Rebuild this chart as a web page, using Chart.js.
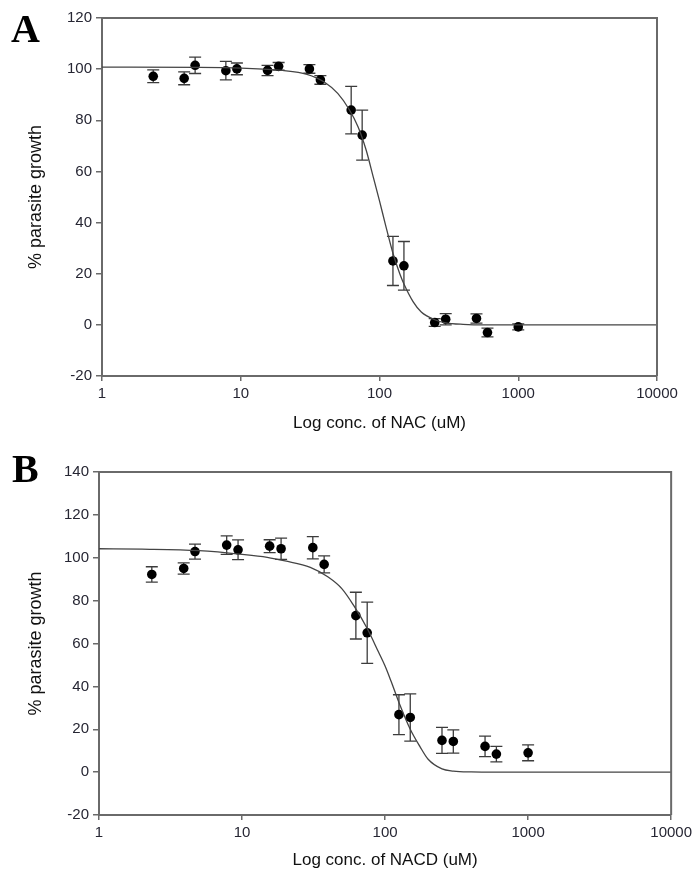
<!DOCTYPE html>
<html>
<head>
<meta charset="utf-8">
<script src="https://cdn.jsdelivr.net/npm/chart.js@4.4.1/dist/chart.umd.min.js"></script>
<style>
body { margin:0; background:#fff; width:696px; height:872px; position:relative; overflow:hidden; }
canvas { position:absolute; left:0; }
#chartA { top:0; }
#chartB { top:436px; }
.panel { position:absolute; font-family:"Liberation Serif", "Times New Roman", serif; font-weight:bold; font-size:40px; line-height:1; color:#000; }
</style>
</head>
<body>
<canvas id="chartA" width="696" height="436"></canvas>
<canvas id="chartB" width="696" height="436"></canvas>
<div class="panel" style="left:11px;top:9px">A</div>
<div class="panel" style="left:12px;top:449px">B</div>
<script>
// concentrations (uM), same dilution series in both panels
var conc = [2.34, 3.91, 4.69, 7.81, 9.38, 15.6, 18.75, 31.25, 37.5, 62.5, 75, 125, 150, 250, 300, 500, 600, 1000];

// panel A - NAC
var growthA = [97.2, 96.4, 101.5, 99.4, 100.1, 99.5, 101.1, 100.1, 95.8, 84.0, 74.2, 25.0, 23.1, 0.9, 2.2, 2.5, -3.0, -0.8];
var errA = [2.5, 2.5, 3.2, 3.6, 2.3, 2.0, 1.5, 1.7, 1.7, 9.3, 9.8, 9.6, 9.5, 1.5, 2.2, 1.8, 1.7, 1.2];
var fitXA = [1, 5, 10, 20, 30, 40, 50, 60, 70, 80, 90, 100, 110, 125, 140, 150, 175, 200, 250, 300, 400, 600, 1000, 10000];
var fitYA = [100.8, 100.7, 100.4, 99.5, 98, 95, 90.5, 84.5, 77.5, 68.5, 58, 48.5, 39.5, 28, 20, 16, 9, 5, 2, 0.8, 0.2, 0, 0, 0];

// panel B - NACD
var growthB = [92.2, 95.0, 102.9, 105.9, 103.7, 105.4, 104.2, 104.7, 96.9, 73.0, 65.0, 26.8, 25.5, 14.8, 14.3, 12.0, 8.4, 9.0];
var errB = [3.6, 2.6, 3.5, 4.3, 4.6, 3.0, 5.0, 5.2, 4.0, 10.9, 14.3, 9.3, 11.0, 6.1, 5.4, 4.8, 3.6, 3.7];
var fitXB = [1, 2, 5, 10, 15, 20, 30, 40, 50, 60, 75, 90, 100, 110, 125, 150, 175, 200, 250, 300, 400, 600, 10000];
var fitYB = [104.2, 104, 103.3, 101.6, 100.2, 98.5, 95.5, 91, 85.5, 78, 67, 56, 49.5, 42.5, 32.5, 20, 12, 6, 1.5, 0.5, 0.1, 0, 0];

// tick labels
var xTicks = [1, 10, 100, 1000, 10000];
var yTicksA = [-20, 0, 20, 40, 60, 80, 100, 120];
var yTicksB = [-20, 0, 20, 40, 60, 80, 100, 120, 140];

var errorBars = {
    id: 'errorBars',
    beforeDatasetsDraw: function(chart, args, opts) {
        var ctx = chart.ctx, x = chart.scales.x, y = chart.scales.y;
        ctx.save();
        ctx.strokeStyle = '#3c3c3c';
        ctx.lineWidth = 1.3;
        opts.conc.forEach(function(c, i) {
            var px = x.getPixelForValue(c);
            var top = y.getPixelForValue(opts.growth[i] + opts.err[i]);
            var bot = y.getPixelForValue(opts.growth[i] - opts.err[i]);
            ctx.beginPath();
            ctx.moveTo(px, top); ctx.lineTo(px, bot);
            ctx.moveTo(px - 6, top); ctx.lineTo(px + 6, top);
            ctx.moveTo(px - 6, bot); ctx.lineTo(px + 6, bot);
            ctx.stroke();
        });
        ctx.restore();
    }
};

var frame = {
    id: 'frame',
    afterDraw: function(chart) {
        var a = chart.chartArea, ctx = chart.ctx;
        ctx.save();
        ctx.strokeStyle = '#6a6a6a';
        ctx.lineWidth = 2;
        ctx.beginPath();
        ctx.moveTo(a.left, a.top);
        ctx.lineTo(a.right, a.top);
        ctx.lineTo(a.right, a.bottom);
        ctx.stroke();
        ctx.restore();
    }
};

function makeChart(id, growth, err, fitX, fitY, yTicks, xTitle, pad, yWidth, xHeight, titleBottom) {
    var pts = conc.map(function(c, i) { return {x: c, y: growth[i]}; });
    var fit = fitX.map(function(v, i) { return {x: v, y: fitY[i]}; });
    return new Chart(document.getElementById(id), {
        type: 'scatter',
        data: {
            datasets: [
                {
                    data: fit,
                    showLine: true,
                    borderColor: '#444',
                    borderWidth: 1.3,
                    pointRadius: 0,
                    cubicInterpolationMode: 'monotone',
                    fill: false
                },
                {
                    data: pts,
                    pointRadius: 4.8,
                    pointHoverRadius: 4.8,
                    backgroundColor: '#000',
                    borderWidth: 0
                }
            ]
        },
        options: {
            responsive: false,
            devicePixelRatio: 1,
            animation: false,
            layout: { padding: pad },
            plugins: {
                legend: { display: false },
                tooltip: { enabled: false },
                errorBars: { conc: conc, growth: growth, err: err }
            },
            scales: {
                x: {
                    type: 'logarithmic',
                    min: 1,
                    max: 10000,
                    afterBuildTicks: function(s) { s.ticks = xTicks.map(function(v) { return {value: v}; }); },
                    afterFit: function(s) { s.height = xHeight; },
                    ticks: {
                        callback: function(v) { return String(v); },
                        font: { family: 'Liberation Sans', size: 15 },
                        color: '#262633',
                        padding: 4,
                        maxRotation: 0
                    },
                    grid: { drawOnChartArea: false, tickLength: 5, color: '#6a6a6a', lineWidth: 1.5 },
                    border: { color: '#6a6a6a', width: 2 },
                    title: {
                        display: true,
                        text: xTitle,
                        font: { family: 'Liberation Sans', size: 17 },
                        color: '#111',
                        padding: { top: 0, bottom: titleBottom }
                    }
                },
                y: {
                    min: yTicks[0],
                    max: yTicks[yTicks.length - 1],
                    afterBuildTicks: function(s) { s.ticks = yTicks.map(function(v) { return {value: v}; }); },
                    afterFit: function(s) { s.width = yWidth; },
                    ticks: {
                        font: { family: 'Liberation Sans', size: 15 },
                        color: '#262633',
                        padding: 4
                    },
                    grid: { drawOnChartArea: false, tickLength: 6, color: '#6a6a6a', lineWidth: 1.5 },
                    border: { color: '#6a6a6a', width: 2 },
                    title: {
                        display: true,
                        text: '% parasite growth',
                        font: { family: 'Liberation Sans', size: 18 },
                        color: '#111',
                        padding: { top: 25, bottom: 0 }
                    }
                }
            }
        },
        plugins: [errorBars, frame]
    });
}

makeChart('chartA', growthA, errA, fitXA, fitYA, yTicksA, 'Log conc. of NAC (uM)',
    { top: 18, right: 39, left: 0, bottom: 0 }, 102, 60, 2);
makeChart('chartB', growthB, errB, fitXB, fitYB, yTicksB, 'Log conc. of NACD (uM)',
    { top: 36, right: 23, left: 0, bottom: 0 }, 99, 57, 1);
</script>
</body>
</html>
